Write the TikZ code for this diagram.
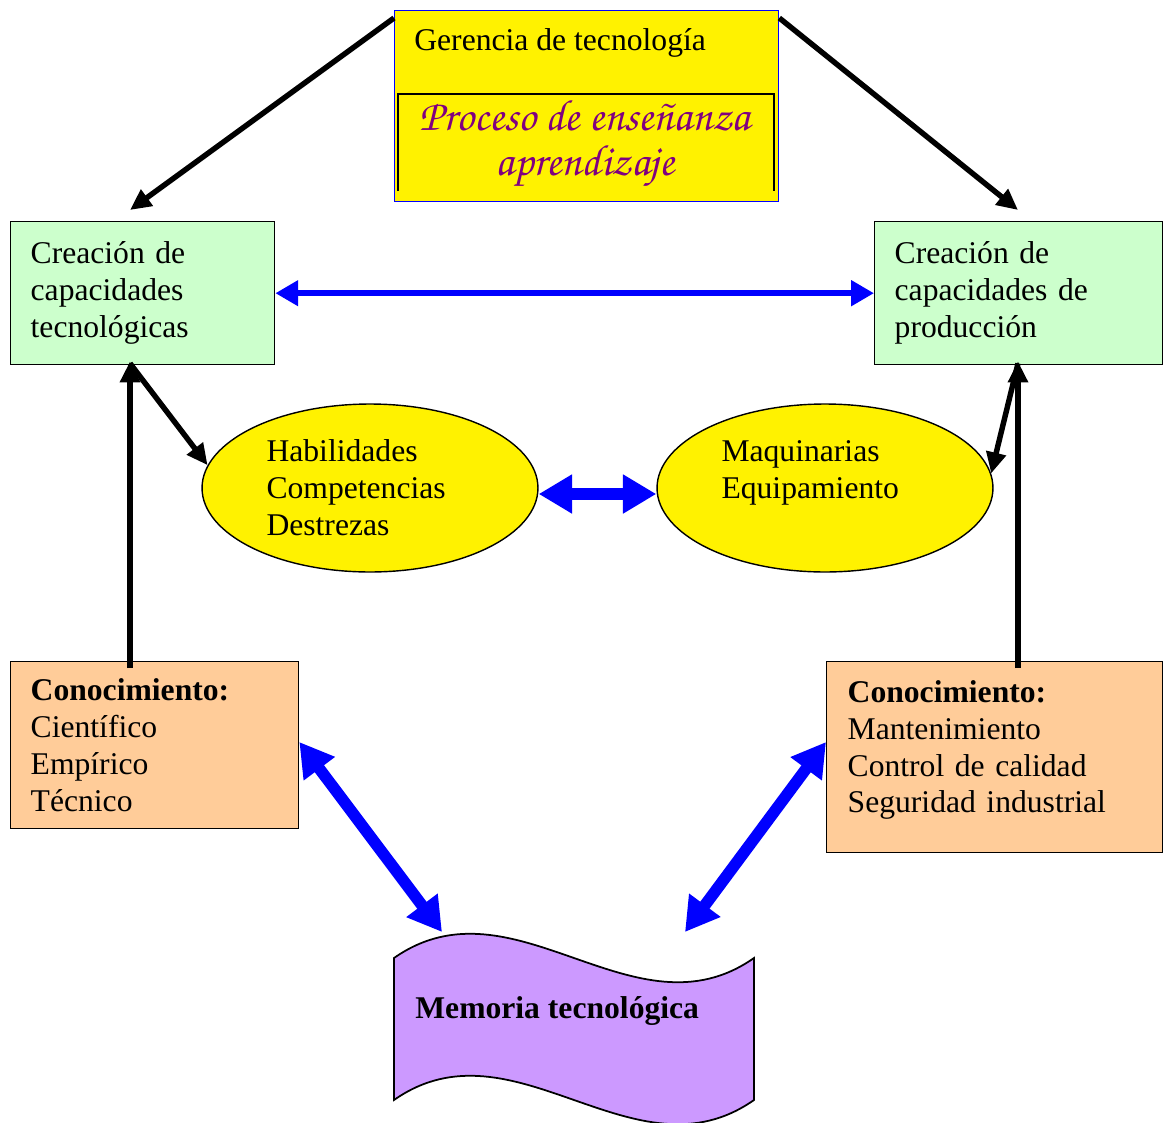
\documentclass[tikz,border=0pt]{standalone}
\usepackage[T1]{fontenc}
\usepackage{fontspec}
\setmainfont{Liberation Serif}
\usetikzlibrary{positioning, shapes.geometric, arrows.meta, calc}

\definecolor{menta}{HTML}{CCFFCC}
\definecolor{durazno}{HTML}{FFCC99}
\definecolor{lila}{HTML}{CC99FF}
\definecolor{morado}{HTML}{800080}

\begin{document}
\begin{tikzpicture}[
  x=0.02cm, y=-0.02cm,
  every node/.style={font=\fontsize{18}{21}\selectfont},
  caja/.style={draw, line width=0.8pt, anchor=north west, align=left,
               inner xsep=0.4cm, inner ysep=0pt},
  elipse/.style={ellipse, draw, line width=0.8pt, fill=yellow, align=left,
                 text width=4.14cm, minimum width=6.72cm, minimum height=3.36cm},
  flechaNegra/.style={line width=3.1pt, -{Triangle[length=12pt,width=11pt]}},
  flechaAzul/.style={blue, line width=3.4pt,
                     {Triangle[length=13pt,width=14pt]}-{Triangle[length=13pt,width=14pt]}},
  flechaGorda/.style={blue, line width=6.6pt,
                      {Triangle[length=19pt,width=21pt]}-{Triangle[length=19pt,width=21pt]}}
]
\useasboundingbox (0,0) rectangle (1164,1123);

% ---- Top box ----
\node[draw=blue, line width=0.8pt, fill=yellow, anchor=north west,
      minimum width=7.68cm, minimum height=3.82cm, inner sep=0pt] (gerencia) at (394,10) {};
\node[anchor=base west, inner sep=0pt] (gerTitulo) at ($(gerencia.north west)+(20,40)$)
  {Gerencia de tecnología};
\draw[line width=1.2pt] ($(gerencia.south west)+(4,-11)$) |- ($(gerencia.north east)+(-5,84)$)
  -- ($(gerencia.south east)+(-5,-11)$);
\node[align=center, text=morado, inner sep=0pt,
      font=\usefont{T1}{pzc}{mb}{it}\fontsize{25}{26}\selectfont] (proceso) at (585,144)
  {Proceso de ense\~nanza\\aprendizaje};

% ---- Green boxes ----
\node[caja, fill=menta, text width=4.48cm, minimum width=5.28cm, minimum height=2.86cm]
  (creaTec) at (10,221) {Creación de\\capacidades\\tecnológicas};
\node[caja, fill=menta, text width=4.96cm, minimum width=5.76cm, minimum height=2.86cm]
  (creaProd) at (874,221) {Creación de\\capacidades de\\producción};

% ---- Ellipses ----
\node[elipse] (habil) at (370,488) {Habilidades\\Competencias\\Destrezas};
\node[elipse] (maquin) at (825,488) {Maquinarias\\Equipamiento\\\mbox{}};

% ---- Knowledge boxes ----
\node[caja, fill=durazno, text width=4.96cm, minimum width=5.76cm, minimum height=3.34cm]
  (conocL) at (10,661) {\textbf{Conocimiento:}\\Científico\\Empírico\\Técnico};
\node[caja, fill=durazno, text width=5.88cm, inner xsep=0.42cm, minimum width=6.72cm,
      minimum height=3.82cm]
  (conocR) at (826,661)
  {\textbf{Conocimiento:}\\Mantenimiento\\Control de calidad\\Seguridad industrial\\[-9pt]\mbox{}};

% ---- Memoria (wave) ----
\draw[line width=1pt, fill=lila] (394,958) .. controls (514,874) and (634,1042) .. (754,958)
  -- (754,1100) .. controls (634,1184) and (514,1016) .. (394,1100) -- cycle;
\node[anchor=base west, inner sep=0pt, font=\fontsize{18}{21}\selectfont\bfseries]
  (memoria) at (415,1018) {Memoria tecnológica};
\coordinate (memL) at (442,932);
\coordinate (memR) at (685,932);

% ---- Arrows ----
\draw[flechaNegra] ($(gerencia.north west)+(0,8)$) -- ($(creaTec.north west)+(120,-11)$);
\draw[flechaNegra] ($(gerencia.north east)+(0,8)$) -- ($(creaProd.north west)+(144,-11)$);
\draw[flechaAzul] (creaTec.east) -- (creaProd.west);
\draw[flechaGorda] ($(habil.east)+(0,6)$) -- ($(maquin.west)+(0,6)$);
\draw[flechaNegra] ($(conocL.north west)+(120,7)$) -- ($(creaTec.south west)+(120,-4)$);
\draw[flechaNegra] ($(conocR.north west)+(192,7)$) -- ($(creaProd.south west)+(144,-4)$);
\draw[flechaNegra] ($(creaTec.south west)+(120,-2)$) -- (habil.172);
\draw[flechaNegra] ($(creaProd.south west)+(144,-2)$) -- (maquin.5);
\draw[flechaGorda] ($(conocL.north east)+(0,81)$) -- (memL);
\draw[flechaGorda] ($(conocR.north west)+(0,81)$) -- (memR);

\end{tikzpicture}
\end{document}
